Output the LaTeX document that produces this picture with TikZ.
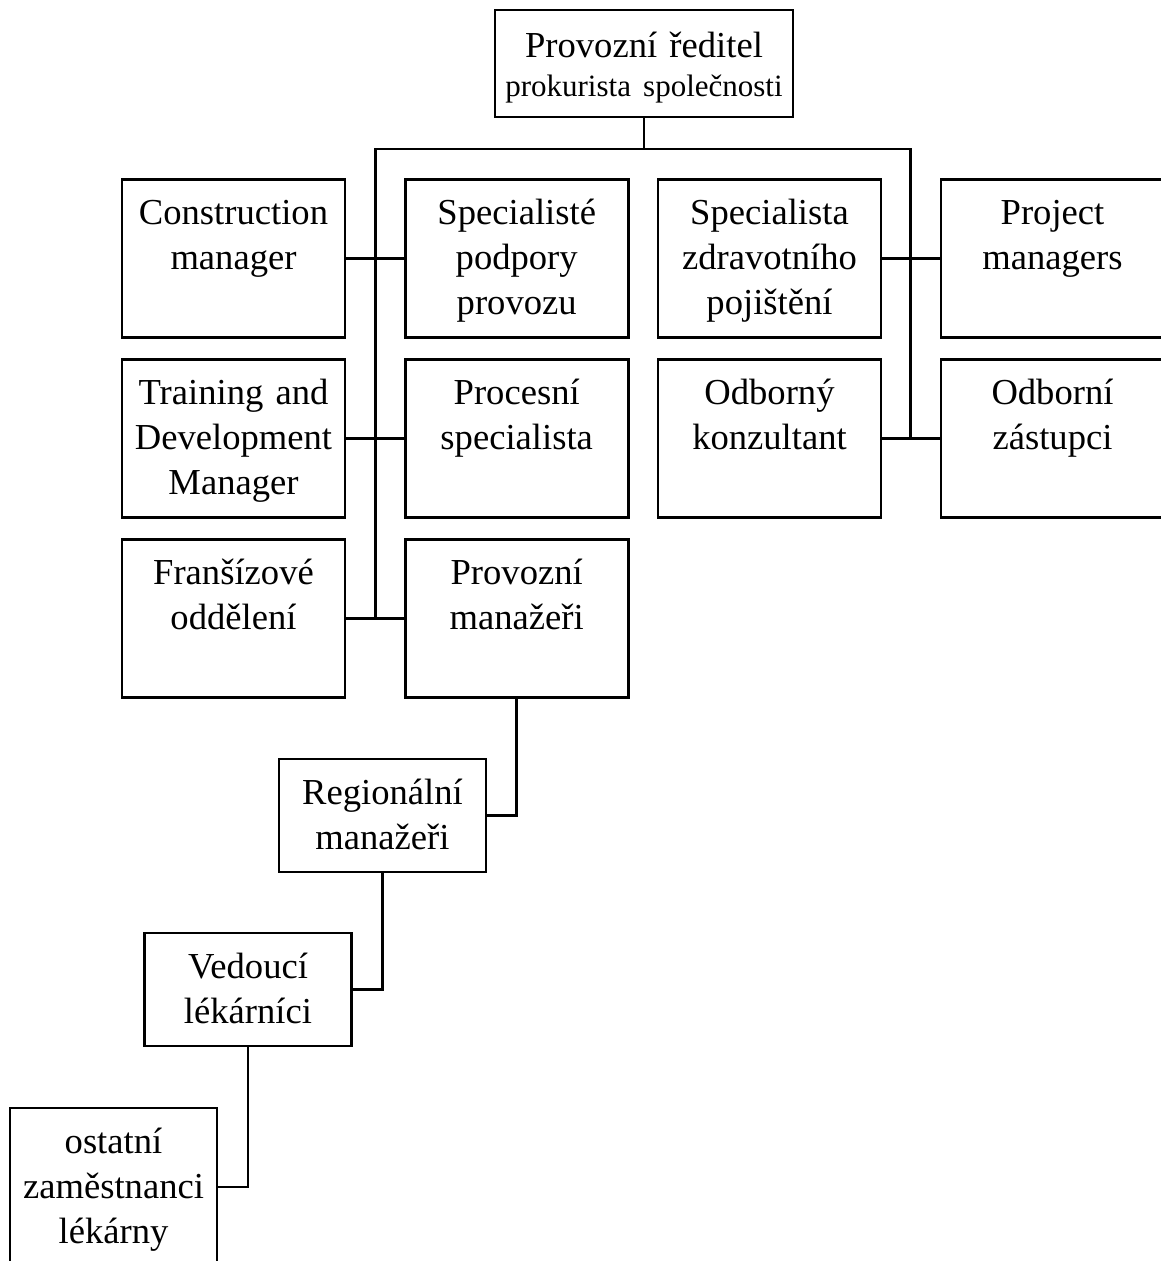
\documentclass[tikz,border=0pt]{standalone}
\usepackage{fontspec}
\setmainfont{Liberation Serif}
\begin{document}
\begin{tikzpicture}[x=1pt,y=-1pt,line width=2.6pt,
  box/.style 2 args={draw, rectangle, inner sep=0pt, align=center,
    text width=#1, text height=45pt, text depth=#2,
    font=\fontsize{36.6}{45}\selectfont},
  bigbox/.style={box={223pt}{113pt}},
  smallbox/.style={box={207pt}{68pt}},
  conn/.style={line width=2.6pt}]
\useasboundingbox (0,0) rectangle (1160,1261);
% top
\node[box={298pt}{60pt}, text height=47pt, font=\fontsize{36.6}{39}\selectfont] (top) at (644,63.5)
  {Provozní ředitel\\{\fontsize{31}{39}\selectfont prokurista společnosti}};
% row 1
\node[bigbox] (cm) at (233.5,258.5) {Construction\\manager};
\node[bigbox] (spp) at (516.7,258.5) {Specialisté\\podpory\\provozu};
\node[bigbox] (szp) at (769.5,258.5) {Specialista\\zdravotního\\pojištění};
\node[bigbox] (pm) at (1052.5,258.5) {Project\\managers};
% row 2
\node[bigbox] (tdm) at (233.5,438.5) {Training and\\Development\\Manager};
\node[bigbox] (ps) at (516.7,438.5) {Procesní\\specialista};
\node[bigbox] (ok) at (769.5,438.5) {Odborný\\konzultant};
\node[bigbox] (oz) at (1052.5,438.5) {Odborní\\zástupci};
% row 3
\node[bigbox] (fo) at (233.5,618.5) {Franšízové\\oddělení};
\node[bigbox] (prm) at (516.7,618.5) {Provozní\\manažeři};
% chain
\node[smallbox] (rm) at (382.5,815.5) {Regionální\\manažeři};
\node[smallbox] (vl) at (248,989.5) {Vedoucí\\lékárníci};
\node[bigbox, text width=207pt] (ost) at (113.5,1187) {ostatní\\zaměstnanci\\lékárny};
% bus
\coordinate (lt) at (375.5,149);
\coordinate (rt) at (910.7,149);
\coordinate (lb) at (lt |- fo.east);
\coordinate (rb) at (rt |- ok.east);
\draw[conn] (top.south) -- (top.south |- lt);
\draw[conn] (lb) -- (lt) -- (rt) -- (rb);
\draw[conn] (cm.east) -- (spp.west);
\draw[conn] (tdm.east) -- (ps.west);
\draw[conn] (fo.east) -- (prm.west);
\draw[conn] (szp.east) -- (pm.west);
\draw[conn] (ok.east) -- (oz.west);
\draw[conn] (prm.south) |- (rm.east);
\draw[conn] (rm.south) |- (vl.east);
\draw[conn] (vl.south) |- (ost.east);
\end{tikzpicture}
\end{document}
